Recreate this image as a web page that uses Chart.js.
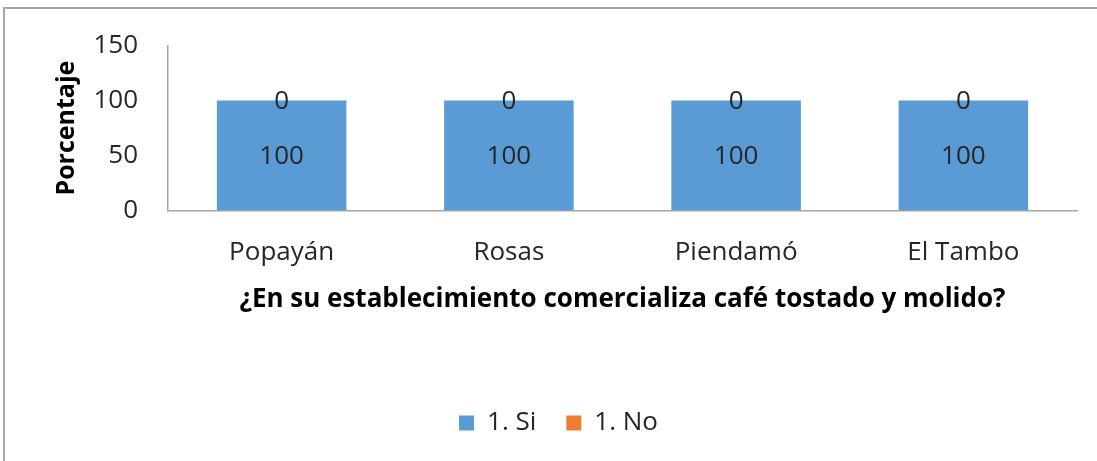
<!DOCTYPE html>
<html>
<head>
<meta charset="utf-8">
<script src="https://cdn.jsdelivr.net/npm/chart.js@4"></script>
<style>
  html, body { margin: 0; padding: 0; background: #fff; }
  #wrap { position: relative; width: 1097px; height: 461px; overflow: hidden; }
  #frame { position: absolute; left: 3px; top: 7px; width: 1200px; height: 600px;
           border-left: 2px solid #a6a6a6; border-top: 2px solid #a6a6a6; }
  canvas { position: absolute; left: 0; top: 0; }
</style>
</head>
<body>
<div id="wrap">
  <div id="frame"></div>
  <canvas id="c" width="1097" height="461"></canvas>
</div>
<script>
const categories = ["Popayán", "Rosas", "Piendamó", "El Tambo"];
const siValues = [100, 100, 100, 100];
const noValues = [0, 0, 0, 0];
const seriesNames = ["1. Si", "1. No"];
const yTicks = [0, 50, 100, 150];
const xTitle = "¿En su establecimiento comercializa café tostado y molido?";
const yTitle = "Porcentaje";

const FONT = "'Open Sans', Lato, sans-serif";
const TXT = "#262626";

const valueLabels = {
  id: "valueLabels",
  afterDatasetsDraw(chart) {
    const ctx = chart.ctx;
    ctx.save();
    ctx.font = "26px " + FONT;
    ctx.fillStyle = TXT;
    ctx.textAlign = "center";
    ctx.textBaseline = "middle";
    chart.data.datasets.forEach((ds, i) => {
      const meta = chart.getDatasetMeta(i);
      meta.data.forEach((bar, j) => {
        const p = bar.getProps(["x", "y", "base"], true);
        const cy = (p.y + p.base) / 2;
        ctx.fillText(String(ds.data[j]), p.x, cy + 1);
      });
    });
    ctx.restore();
  }
};

new Chart(document.getElementById("c"), {
  type: "bar",
  data: {
    labels: categories,
    datasets: [
      { label: seriesNames[0], data: siValues, backgroundColor: "#5b9bd5", barPercentage: 0.57, categoryPercentage: 1 },
      { label: seriesNames[1], data: noValues, backgroundColor: "#ed7d31", barPercentage: 0.57, categoryPercentage: 1 }
    ]
  },
  options: {
    responsive: false,
    animation: false,
    layout: { padding: { left: 40, right: 20, top: 41, bottom: 15 } },
    plugins: {
      tooltip: { enabled: false },
      legend: {
        position: "bottom",
        labels: { font: { family: FONT, size: 26 }, color: TXT, boxWidth: 15, boxHeight: 15, padding: 30 }
      }
    },
    scales: {
      x: {
        stacked: true,
        grid: { display: false, drawTicks: false },
        border: { color: "#a6a6a6", width: 1.5 },
        ticks: { font: { family: FONT, size: 26 }, color: TXT, padding: 26, maxRotation: 0 },
        title: { display: true, text: xTitle, font: { family: FONT, size: 26, weight: "bold" }, color: "#000",
                 padding: { top: -10, bottom: 65 } }
      },
      y: {
        stacked: true,
        min: 0, max: 150,
        afterBuildTicks(scale) { scale.ticks = yTicks.map(v => ({ value: v })); },
        afterFit(scale) { scale.width = 128; },
        grid: { display: false, drawTicks: false },
        border: { color: "#a6a6a6", width: 1.5 },
        ticks: { font: { family: FONT, size: 26 }, color: TXT, padding: 30 },
        title: { display: true, text: yTitle, font: { family: FONT, size: 25, weight: "bold" }, color: "#000",
                 padding: { top: 12, bottom: 0 } }
      }
    }
  },
  plugins: [valueLabels]
});
</script>
</body>
</html>
